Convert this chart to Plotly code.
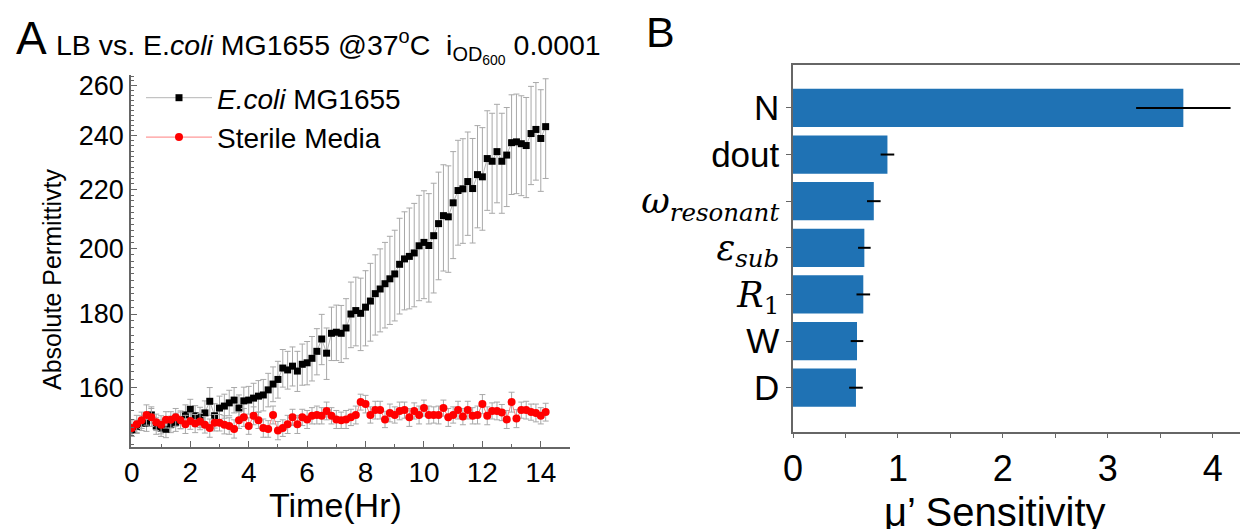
import plotly.graph_objects as go
import numpy as np

# ---------------- Panel A data ----------------
time_hr = [i / 6 for i in range(86)]

ecoli = [149.3, 150.2, 151.0, 151.0, 153.0, 150.3, 149.8, 149.5, 150.7, 151.2,
         151.8, 153.0, 154.4, 152.8, 152.4, 153.5, 156.4, 152.8, 154.7, 155.2,
         156.0, 156.7, 154.7, 156.5, 156.7, 157.2, 157.7, 158.0, 159.3, 160.8,
         162.0, 165.0, 164.5, 165.5, 164.2, 166.0, 166.4, 167.6, 169.5, 172.9,
         169.0, 174.5, 174.8, 174.5, 176.0, 180.0, 181.0, 180.2, 182.0, 183.8,
         186.0, 187.4, 189.0, 190.5, 192.0, 195.0, 196.7, 197.5, 198.6, 200.9,
         202.0, 201.0, 204.2, 208.2, 210.9, 210.5, 215.3, 219.6, 220.2, 222.8,
         220.3, 225.3, 224.5, 231.2, 230.2, 233.8, 230.2, 232.5, 237.2, 237.5,
         236.8, 236.1, 240.7, 242.3, 238.8, 243.4]
ecoli_err = [1.5, 1.5, 1.8, 2.0, 2.0, 2.0, 2.0, 2.0, 2.0, 2.2,
             2.2, 2.5, 2.5, 2.5, 2.5, 3.0, 3.5, 3.0, 3.0, 3.0,
             3.2, 3.2, 3.3, 3.5, 3.5, 3.8, 4.0, 4.0, 4.3, 4.5,
             4.8, 5.0, 5.0, 5.2, 5.3, 5.5, 5.8, 6.0, 6.3, 7.0,
             7.0, 7.5, 7.8, 8.0, 8.5, 9.5, 10.0, 10.5, 11.0, 11.5,
             12.0, 12.5, 13.0, 13.5, 14.0, 15.0, 15.5, 16.0, 16.5, 17.0,
             17.5, 17.5, 18.0, 18.0, 18.0, 18.0, 18.5, 18.5, 18.5, 18.5,
             18.5, 18.5, 18.5, 18.5, 18.5, 18.5, 18.5, 18.5, 19.0, 19.0,
             19.0, 19.0, 19.0, 19.0, 19.5, 19.5]

sterile = [149.8, 150.7, 151.7, 153.0, 152.4, 151.2, 150.6, 151.8, 151.8, 152.4,
           151.7, 150.7, 151.5, 150.9, 151.4, 150.6, 149.8, 151.1, 151.1, 150.6,
           150.3, 149.6, 151.7, 152.4, 150.3, 152.8, 151.7, 149.8, 149.6, 153.0,
           149.2, 149.8, 150.7, 152.4, 150.7, 152.4, 151.9, 152.8, 153.0, 152.8,
           154.0, 152.8, 151.9, 151.7, 151.9, 152.4, 153.0, 156.2, 155.7, 153.0,
           154.2, 154.2, 151.9, 153.5, 153.0, 154.0, 154.2, 152.4, 154.0, 153.0,
           154.7, 153.0, 153.0, 153.0, 154.7, 152.4, 153.0, 154.2, 152.6, 154.2,
           152.8, 153.0, 155.7, 152.8, 154.0, 154.0, 153.6, 151.9, 156.2, 152.1,
           154.2, 154.2, 153.7, 153.5, 152.8, 153.7]
sterile_err = [2.0, 2.2, 2.0, 2.5, 2.2, 2.0, 2.2, 2.0, 2.0, 2.2,
               2.0, 2.2, 2.0, 2.2, 2.0, 2.0, 2.2, 2.0, 2.0, 2.2,
               2.0, 2.2, 2.0, 2.2, 2.0, 2.2, 2.0, 2.2, 2.0, 2.2,
               2.2, 2.0, 2.2, 2.0, 2.2, 2.0, 2.2, 2.0, 2.2, 2.0,
               2.2, 2.0, 2.2, 2.0, 2.2, 2.0, 2.2, 2.0, 2.2, 2.0,
               2.2, 2.2, 2.0, 2.2, 2.0, 2.2, 2.0, 2.2, 2.0, 2.2,
               2.0, 2.2, 2.0, 2.2, 2.0, 2.2, 2.0, 2.2, 2.0, 2.2,
               2.0, 2.2, 2.4, 2.2, 2.0, 2.2, 2.0, 2.2, 2.5, 2.2,
               2.0, 2.2, 2.0, 2.2, 2.0, 2.2]

y_ticks_A = [160, 180, 200, 220, 240, 260]
x_ticks_A = [0, 2, 4, 6, 8, 10, 12, 14]

# ---------------- Panel B data ----------------
serif = "font-family:'DejaVu Serif','Liberation Serif',serif"
params = ["N", "dout",
          f"<span style=\"{serif}\"><i>ω</i><sub><i>resonant</i></sub></span>",
          f"<span style=\"{serif}\"><i>ε</i><sub><i>sub</i></sub></span>",
          f"<span style=\"{serif}\"><i>R</i><sub>1</sub></span>",
          "W", "D"]
sensitivity = [3.72, 0.90, 0.77, 0.68, 0.67, 0.61, 0.60]
sensitivity_err = [0.45, 0.065, 0.065, 0.06, 0.065, 0.06, 0.065]
x_ticks_B = [0, 1, 2, 3, 4]

W, H = 1240, 529
def px(x):
    return x / W
def py(y):
    return (H - y) / H

fig = go.Figure()

axis_col = "#666666"

fig.add_trace(go.Scatter(
    x=time_hr, y=ecoli, mode="lines+markers",
    name="<i>E.coli</i> MG1655",
    line=dict(color="#b5b5b5", width=1),
    marker=dict(symbol="square", color="black", size=7),
    error_y=dict(type="data", array=ecoli_err, color="#a8a8a8", thickness=1, width=3),
    xaxis="x", yaxis="y"))

fig.add_trace(go.Scatter(
    x=time_hr, y=sterile, mode="lines+markers",
    name="Sterile Media",
    line=dict(color="#ff6060", width=0.8),
    marker=dict(symbol="circle", color="#ff0000", size=8),
    error_y=dict(type="data", array=sterile_err, color="#a8a8a8", thickness=1, width=3),
    xaxis="x", yaxis="y"))

fig.add_trace(go.Bar(
    x=sensitivity, y=params, orientation="h",
    marker=dict(color="#1f72b4", line=dict(width=0)),
    width=0.82,
    error_x=dict(type="data", array=sensitivity_err, color="black", thickness=2, width=0),
    showlegend=False,
    xaxis="x2", yaxis="y2"))

fig.update_layout(
    width=W, height=H,
    margin=dict(l=0, r=0, t=0, b=0),
    paper_bgcolor="white", plot_bgcolor="white",
    font=dict(family="Arial, Liberation Sans, sans-serif", color="black"),
    showlegend=True,
    legend=dict(x=px(141), y=py(73), xanchor="left", yanchor="top",
                font=dict(size=28, color="black"), itemwidth=66,
                bgcolor="rgba(0,0,0,0)", tracegroupgap=0),
    xaxis=dict(domain=[px(131), px(570)], anchor="y", automargin=False,
               range=[-0.03, 15], tickvals=x_ticks_A,
               ticks="inside", ticklen=6, tickcolor=axis_col, tickwidth=1.2,
               minor=dict(dtick=1, ticks="inside", ticklen=3, tickcolor=axis_col),
               showline=True, linecolor=axis_col, linewidth=1.5,
               showgrid=False, zeroline=False,
               tickfont=dict(size=28, color="black")),
    yaxis=dict(domain=[py(447), py(75)], anchor="x", type="log", automargin=False,
               range=[np.log10(145.3), np.log10(264.5)],
               tickvals=y_ticks_A, ticktext=[str(v) for v in y_ticks_A],
               ticks="inside", ticklen=6, tickcolor=axis_col, tickwidth=1.2,
               minor=dict(dtick="L2", ticks="inside", ticklen=3, tickcolor=axis_col),
               showline=True, linecolor=axis_col, linewidth=1.5,
               showgrid=False, zeroline=False,
               tickfont=dict(size=27, color="black")),
    xaxis2=dict(domain=[px(793), 1.0], anchor="y2", automargin=False,
                range=[0, 4.26], tickvals=x_ticks_B,
                ticks="outside", ticklen=4, tickcolor=axis_col,
                minor=dict(dtick=0.5, ticks="outside", ticklen=4, tickcolor=axis_col),
                showline=True, linecolor=axis_col, linewidth=1.5, mirror=True,
                showgrid=False, zeroline=False,
                tickfont=dict(size=36, color="black")),
    yaxis2=dict(domain=[py(432), py(65)], anchor="x2", automargin=False,
                type="category", categoryarray=params, categoryorder="array",
                range=[6.95, -0.92],
                ticks="outside", ticklen=5, tickcolor=axis_col,
                showline=True, linecolor=axis_col, linewidth=1.5,
                showgrid=False, zeroline=False,
                tickfont=dict(size=35, color="black")),
)

annotations = [
    dict(text="A", x=px(31), y=py(38), font=dict(size=46)),
    dict(text="B", x=px(660), y=py(32), font=dict(size=43)),
    dict(text="LB vs. E.<i>coli</i> MG1655 @37<sup>o</sup>C&nbsp;&nbsp;i<sub>OD<sub>600</sub></sub> 0.0001",
         x=px(328), y=py(47), font=dict(size=28.5)),
    dict(text="Absolute Permittivty", x=px(52), y=py(280), textangle=-90, font=dict(size=25)),
    dict(text="Time(Hr)", x=px(335), y=py(505), font=dict(size=34)),
    dict(text="μ’ Sensitivity", x=px(995), y=py(512), font=dict(size=40)),
]
for a in annotations:
    fig.add_annotation(xref="paper", yref="paper", showarrow=False,
                       xanchor="center", yanchor="middle", **a)

fig.write_html("out.html", config={"displayModeBar": False},
               post_script="document.body.style.margin='0';document.body.style.padding='0';")
